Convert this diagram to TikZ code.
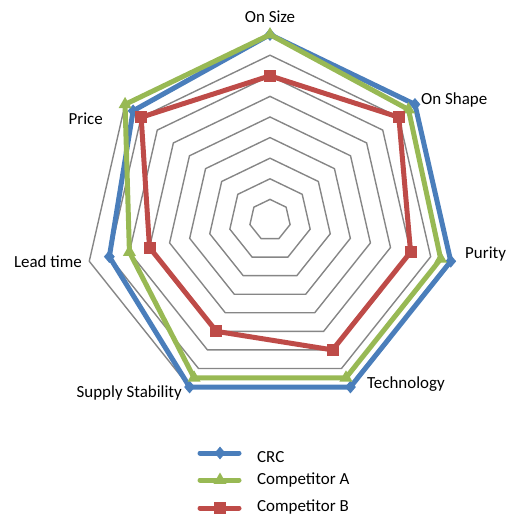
\documentclass[tikz,border=0pt]{standalone}
\usepackage{fontspec}
\setmainfont{Carlito}
\usetikzlibrary{shapes.geometric}
\definecolor{crc}{HTML}{4A7EBB}
\definecolor{ca}{HTML}{98B954}
\definecolor{cb}{HTML}{BE4B48}
\definecolor{gridc}{HTML}{868686}
\begin{document}
\begin{tikzpicture}[x=1bp,y=-1bp,
  gridline/.style={draw=gridc,line width=1.4bp},
  sline/.style={line width=5bp,line join=round},
  lbl/.style={inner sep=0pt,font=\fontsize{17}{19}\selectfont},
  crcmark/.style={diamond,fill=crc,inner sep=0pt,minimum width=11bp,minimum height=13bp},
  camark/.style={regular polygon,regular polygon sides=3,fill=ca,inner sep=0pt,minimum size=15bp},
  cbmark/.style={rectangle,fill=cb,inner sep=0pt,minimum size=12bp},
  legline/.style={line width=5bp,line cap=round}]
\useasboundingbox (0,0) rectangle (518,519);
\def\R{20.6}
\begin{scope}[shift={(270,220)}]
  \foreach \k in {1,...,9}
    \draw[gridline] (-90:\k*\R) \foreach \i in {1,...,6}{ -- ({-90+\i*360/7}:\k*\R)} -- cycle;
  % CRC
  \foreach \v [count=\i from 0] in {9,9,9,9,9,8,8.5}
    \coordinate (crc\i) at ({-90+\i*360/7}:{\v*\R});
  \draw[sline,crc] (crc0) -- (crc1) -- (crc2) -- (crc3) -- (crc4) -- (crc5) -- (crc6) -- cycle;
  \foreach \i in {0,...,6} \node[crcmark] (mcrc\i) at (crc\i) {};
  % Competitor A
  \foreach \v [count=\i from 0] in {9,8.6,8.5,8.5,8.5,7,9}
    \coordinate (ca\i) at ({-90+\i*360/7}:{\v*\R});
  \draw[sline,ca] (ca0) -- (ca1) -- (ca2) -- (ca3) -- (ca4) -- (ca5) -- (ca6) -- cycle;
  \foreach \i in {0,...,6} \node[camark] (mca\i) at (ca\i) {};
  % Competitor B
  \foreach \v [count=\i from 0] in {7,8,7,7,6,6,8}
    \coordinate (cb\i) at ({-90+\i*360/7}:{\v*\R});
  \draw[sline,cb] (cb0) -- (cb1) -- (cb2) -- (cb3) -- (cb4) -- (cb5) -- (cb6) -- cycle;
  \foreach \i in {0,...,6} \node[cbmark] (mcb\i) at (cb\i) {};
\end{scope}
% axis labels
\node[lbl] (l0) at (270,17) {On Size};
\node[lbl,anchor=west] (l1) at (421,100) {On Shape};
\node[lbl,anchor=west] (l2) at (465,254) {Purity};
\node[lbl,anchor=west] (l3) at (367,384) {Technology};
\node[lbl,anchor=east] (l4) at (182,393) {Supply Stability};
\node[lbl,anchor=east] (l5) at (82,262) {Lead time};
\node[lbl,anchor=east] (l6) at (103,119) {Price};
% legend
\coordinate (a1) at (200,453); \coordinate (b1) at (239,453);
\coordinate (a2) at (200,480); \coordinate (b2) at (239,480);
\coordinate (a3) at (200,508); \coordinate (b3) at (239,508);
\draw[legline,crc] (a1) -- (b1);
\node[crcmark] (k1) at (220,453) {};
\draw[legline,ca] (a2) -- (b2);
\node[camark] (k2) at (220,480) {};
\draw[legline,cb] (a3) -- (b3);
\node[cbmark] (k3) at (220,508) {};
\node[lbl,anchor=west] (t1) at (257,457) {CRC};
\node[lbl,anchor=west] (t2) at (257,480) {Competitor A};
\node[lbl,anchor=west] (t3) at (257,507) {Competitor B};
\end{tikzpicture}
\end{document}
